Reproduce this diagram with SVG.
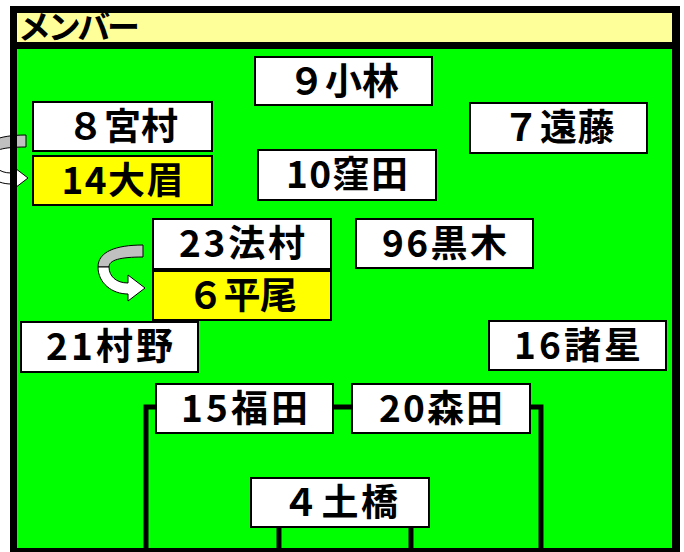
<svg xmlns="http://www.w3.org/2000/svg" width="684" height="552" viewBox="0 0 684 552">
<defs>
<style>
.box{stroke:#000;stroke-width:2}
.w{fill:#fff}
.y{fill:#ffff00}
.lbl{font-family:"Noto Sans CJK JP","Liberation Sans",sans-serif;font-weight:bold;font-size:37px;fill:#000;text-anchor:middle}
.con{stroke:#000;stroke-width:5;fill:none}
.arr{stroke:#000;stroke-width:1;stroke-linejoin:round}
</style>
</defs>
<rect x="0" y="0" width="684" height="552" fill="#fff"/>
<g id="frame-fill">
<rect x="17" y="13" width="655" height="29" fill="#ffff99"/>
<rect x="17" y="49" width="655" height="499" fill="#00ff00"/>
</g>
<g id="swap-arrow-1" transform="translate(-117,-110)">
<path class="arr" fill="#c0c0c0" d="M143,245 C115,245 98,252 98,267 L109,267 C109,260 120,257 143,257 Z"/>
<path class="arr" fill="#fff" d="M98,267 C98,283 112,294 128,294 L128,301 L145,288 L128,275 L128,283 C116,283 109,276 109,267 Z"/>
</g>
<g id="frame-border" fill="#000">
<rect x="10" y="6" width="670" height="7"/>
<rect x="10" y="6" width="7" height="546"/>
<rect x="672" y="6" width="8" height="546"/>
<rect x="10" y="42" width="670" height="7"/>
<rect x="10" y="548" width="670" height="4"/>
</g>
<text x="18" y="39" font-family="Noto Sans CJK JP, sans-serif" font-weight="bold" font-size="33" fill="#000" textLength="122">メンバー</text>
<g id="connectors">
<polyline class="con" points="156,407 146,407 146,552"/>
<line class="con" x1="333" y1="407" x2="352" y2="407"/>
<polyline class="con" points="530,407 541,407 541,552"/>
<line class="con" x1="279" y1="527" x2="279" y2="552"/>
<line class="con" x1="411" y1="527" x2="411" y2="552"/>
</g>
<g id="swap-arrow-2">
<path class="arr" fill="#c0c0c0" d="M143,245 C115,245 98,252 98,267 L109,267 C109,260 120,257 143,257 Z"/>
<path class="arr" fill="#fff" d="M98,267 C98,283 112,294 128,294 L128,301 L145,288 L128,275 L128,283 C116,283 109,276 109,267 Z"/>
</g>
<g id="n9"><rect class="box w" x="255" y="57" width="177" height="48"/><text class="lbl" x="343.5" y="95" textLength="111">９小林</text></g>
<g id="n8"><rect class="box w" x="33" y="102" width="179" height="49"/><text class="lbl" x="122.5" y="140" textLength="111">８宮村</text></g>
<g id="n7"><rect class="box w" x="470" y="103" width="177" height="50"/><text class="lbl" x="558.5" y="141" textLength="112">７遠藤</text></g>
<g id="n14"><rect class="box y" x="33" y="156" width="179" height="49"/><text class="lbl" x="122.5" y="194" textLength="122">14大眉</text></g>
<g id="n10"><rect class="box w" x="258" y="150" width="178" height="50"/><text class="lbl" x="347" y="188" textLength="122">10窪田</text></g>
<g id="n23"><rect class="box w" x="153" y="219" width="178" height="50"/><text class="lbl" x="242" y="257" textLength="126">23法村</text></g>
<g id="n96"><rect class="box w" x="356" y="219" width="177" height="49"/><text class="lbl" x="444.5" y="257" textLength="125">96黒木</text></g>
<g id="n6"><rect class="box y" x="153" y="271" width="178" height="49"/><text class="lbl" x="242" y="309" textLength="110">６平尾</text></g>
<g id="n21"><rect class="box w" x="21" y="322" width="177" height="50"/><text class="lbl" x="109.5" y="360" textLength="127">21村野</text></g>
<g id="n16"><rect class="box w" x="489" y="321" width="177" height="49"/><text class="lbl" x="577.5" y="359" textLength="127">16諸星</text></g>
<g id="n15"><rect class="box w" x="156" y="384" width="177" height="49"/><text class="lbl" x="244.5" y="422" textLength="127">15福田</text></g>
<g id="n20"><rect class="box w" x="352" y="384" width="178" height="49"/><text class="lbl" x="441" y="422" textLength="124">20森田</text></g>
<g id="n4"><rect class="box w" x="251" y="478" width="178" height="49"/><text class="lbl" x="340" y="516" textLength="116">４土橋</text></g>
</svg>
